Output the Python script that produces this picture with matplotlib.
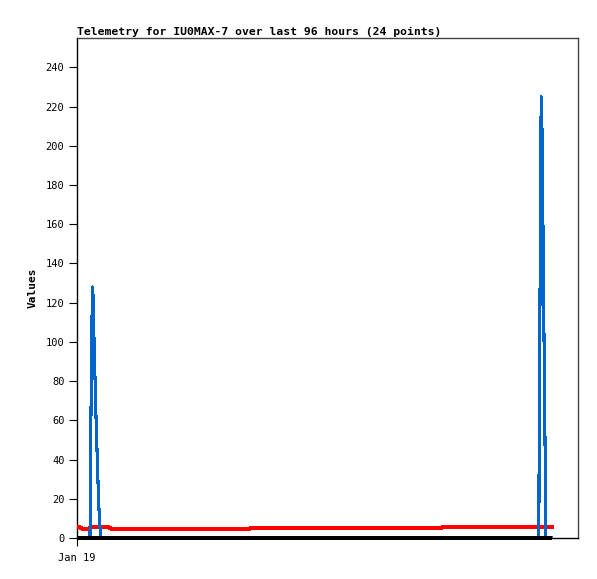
import matplotlib
matplotlib.use('Agg')
from matplotlib import pyplot as plt

# hours since Jan 19 00:00
blue_x = [0, 2.49, 2.55, 2.68, 2.82, 3.0, 3.12, 3.22, 3.39, 3.54, 3.70, 3.89, 4.08, 4.31, 4.60,
          88.5, 88.54, 88.7, 88.83, 88.95, 89.2, 89.33, 89.56, 89.75, 89.85, 91.0]
blue_y = [0, 0, 21, 64, 106, 128, 120, 105, 88, 72, 56, 40, 24, 8, 0,
          0, 37, 112, 187, 225, 197, 140, 84, 28, 0, 0]

red_x = [0, 0.6, 1.0, 2.4, 6.2, 6.5, 33.2, 70.0, 91.0]
red_y = [5.8, 5.3, 4.8, 5.8, 5.3, 4.8, 5.3, 5.8, 5.8]

black_x = [0, 91.0]
black_y = [0, 0]

yticks = list(range(0, 241, 20))
xtick_labels = ['Jan 19']

fig = plt.figure(figsize=(5.97, 5.79), dpi=100)
ax = fig.add_axes([77/597, 1-538/579, 501/597, 500/579])

ax.step(red_x, red_y, where='post', color='#ff0000', lw=1.5, antialiased=False, zorder=3)
ax.plot(blue_x, blue_y, color='#0066cc', lw=1.5, antialiased=False, zorder=4)
ax.plot(black_x, black_y, color='black', lw=1.6, antialiased=False, solid_capstyle='butt',
        clip_on=False, zorder=5)

ax.set_xlim(0, 96)
ax.set_ylim(0, 255)
ax.set_yticks(yticks)
ax.set_xticks([0])
ax.set_xticklabels(xtick_labels)

mono = 'DejaVu Sans Mono'
for lab in ax.get_yticklabels() + ax.get_xticklabels():
    lab.set_family(mono)
    lab.set_fontsize(7.5)
ax.tick_params(direction='out', length=6, width=0.8, pad=3, color='black')
ax.tick_params(axis='x', pad=5)

for side in ['top', 'right']:
    ax.spines[side].set_color('#444444')
for side in ['left', 'bottom']:
    ax.spines[side].set_color('black')
for s in ax.spines.values():
    s.set_linewidth(1)

ax.set_ylabel('Values', family=mono, fontweight='bold', fontsize=8, labelpad=6)
ax.set_title('Telemetry for IU0MAX-7 over last 96 hours (24 points)', family=mono,
             fontweight='bold', fontsize=8.2, loc='left', pad=2)

fig.savefig('out.png', dpi=100)
